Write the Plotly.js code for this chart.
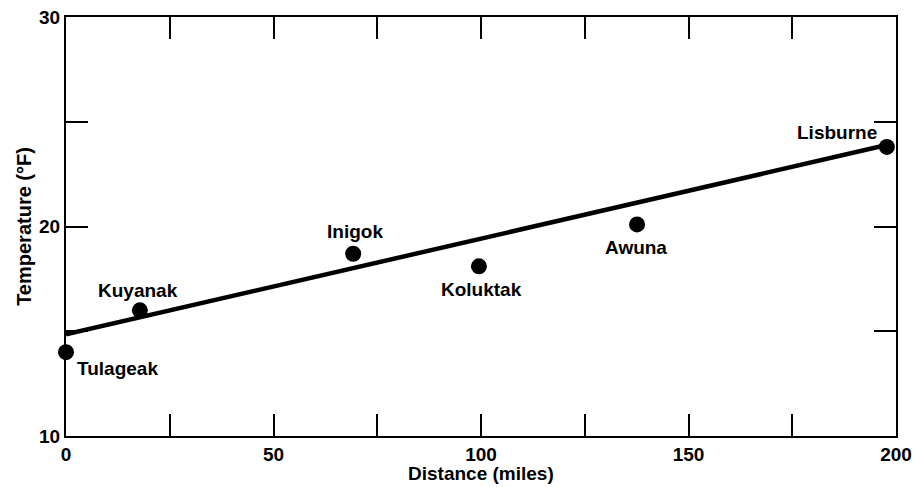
<!DOCTYPE html>
<html><head><meta charset="utf-8">
<script src="https://cdn.plot.ly/plotly-3.0.1.min.js"></script>
<style>body{margin:0;background:#fff}#c{width:921px;height:487px}</style>
</head><body><div id="c"></div>
<script>
const stations = ["Tulageak","Kuyanak","Inigok","Koluktak","Awuna","Lisburne"];
const distance = [0, 17.8, 69.2, 99.5, 137.6, 197.8];
const temperature = [14.0, 16.0, 18.7, 18.1, 20.1, 23.8];
const fitX = [0, 198];
const fitY = [14.85, 23.9];
const xTickVals = [0,25,50,75,100,125,150,175,200];
const xTickText = ["0","","50","","100","","150","","200"];
const yTickVals = [10,15,20,25,30];
const yTickText = ["10","","20","","30"];
const xTitle = "Distance (miles)";
const yTitle = "Temperature (°F)";
// label offsets (pixels) per station
const labelDx = [51, -2, 2, 3, -1, -50];
const labelDy = [16, -20, -22, 23, 23, -14];

const font = "Liberation Sans, Arial, sans-serif";
const annotations = stations.map((s,i)=>({
  x: distance[i], y: temperature[i], xref:'x', yref:'y', text: s, showarrow:false,
  xshift: labelDx[i], yshift: -labelDy[i],
  font:{family:font, size:19, color:'#000', weight:'bold'}
}));
annotations.push({x:0.5, y:0, xref:'paper', yref:'paper', yanchor:'top', yshift:-25, showarrow:false,
  text:xTitle, font:{family:font, size:19, color:'#000', weight:'bold'}});

const data = [
  {x: fitX, y: fitY, mode:'lines', line:{color:'#000', width:4.5}, hoverinfo:'skip'},
  {x: distance, y: temperature, mode:'markers', marker:{color:'#000', size:16}, cliponaxis:false}
];
const axisCommon = {showgrid:false, zeroline:false, showline:true, linecolor:'#000', linewidth:2,
  mirror:'ticks', ticks:'inside', ticklen:22, tickwidth:2, tickcolor:'#000',
  tickfont:{family:font, size:19, color:'#000', weight:'bold'}};
const layout = {
  width:921, height:487, paper_bgcolor:'#fff', plot_bgcolor:'#fff', showlegend:false,
  margin:{l:66, r:25, t:17, b:51},
  xaxis: Object.assign({}, axisCommon, {range:[0,200], tickmode:'array', tickvals:xTickVals, ticktext:xTickText}),
  yaxis: Object.assign({}, axisCommon, {range:[10,30], tickmode:'array', tickvals:yTickVals, ticktext:yTickText,
    title:{text:yTitle, font:{family:font, size:20, color:'#000', weight:'bold'}, standoff:2}}),
  annotations: annotations
};
Plotly.newPlot('c', data, layout, {staticPlot:true});
</script></body></html>
